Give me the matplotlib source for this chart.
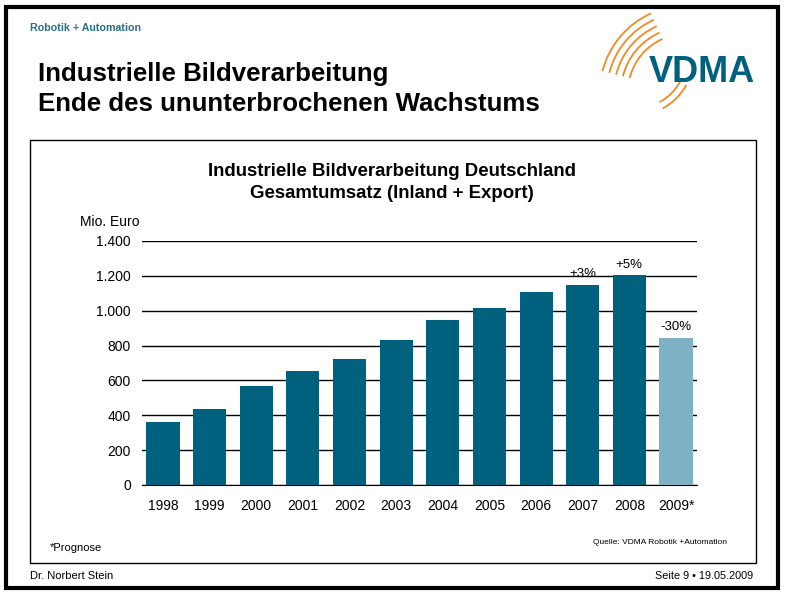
"""Industrielle Bildverarbeitung Deutschland - Gesamtumsatz (VDMA slide)."""
import matplotlib

matplotlib.use("Agg")
import matplotlib.pyplot as plt
from matplotlib.patches import Arc, Rectangle

years = ["1998", "1999", "2000", "2001", "2002", "2003",
         "2004", "2005", "2006", "2007", "2008", "2009*"]
umsatz = [360, 437, 568, 655, 725, 832, 947, 1015, 1108, 1150, 1205, 845]
is_forecast = [False] * 11 + [True]
growth_labels = {"2007": "+3%", "2008": "+5%", "2009*": "-30%"}
y_ticks = [0, 200, 400, 600, 800, 1000, 1200, 1400]
y_tick_labels = ["0", "200", "400", "600", "800", "1.000", "1.200", "1.400"]

DARK = "#00617f"
LIGHT = "#7fb1c4"
TEAL_TXT = "#2a6f85"
ORANGE = "#f08a24"

plt.rcParams["font.family"] = ["Liberation Sans", "DejaVu Sans"]

fig = plt.figure(figsize=(7.86, 6.00), dpi=100)

# slide decoration in pixel coordinates (y axis points down)
deco = fig.add_axes([0, 0, 1, 1])
deco.set_xlim(0, 786)
deco.set_ylim(600, 0)
deco.axis("off")
deco.add_patch(Rectangle((6, 7), 772, 581, fill=False, lw=3, ec="black"))
deco.add_patch(Rectangle((30, 140), 726, 423, fill=False, lw=1, ec="black"))
deco.text(30, 28, "Robotik + Automation", color=TEAL_TXT, fontsize=7.7,
          fontweight="bold", va="center")
deco.text(38, 74, "Industrielle Bildverarbeitung", fontsize=18.6,
          fontweight="bold", va="center")
deco.text(38, 104, "Ende des ununterbrochenen Wachstums", fontsize=18.6,
          fontweight="bold", va="center")
deco.text(702, 72, "VDMA", color=DARK, fontsize=26, fontweight="bold",
          ha="center", va="center")
# orange logo arcs (angles flipped because of the inverted y axis)
for r in (58, 65, 72, 79, 86):
    deco.add_patch(Arc((686, 92), 2 * r, 2 * r, theta1=194, theta2=246,
                       color=ORANGE, lw=1.3))
for r in (50, 57):
    deco.add_patch(Arc((636, 58), 2 * r, 2 * r, theta1=28, theta2=62,
                       color=ORANGE, lw=1.3))
deco.text(392, 171, "Industrielle Bildverarbeitung Deutschland", fontsize=13.4,
          fontweight="bold", ha="center", va="center")
deco.text(392, 193, "Gesamtumsatz (Inland + Export)", fontsize=13.4,
          fontweight="bold", ha="center", va="center")
deco.text(80, 222, "Mio. Euro", fontsize=10, va="center")
deco.text(50, 548, "*Prognose", fontsize=8, va="center")
deco.text(727, 542, "Quelle: VDMA Robotik +Automation", fontsize=6,
          ha="right", va="center")
deco.text(30, 576, "Dr. Norbert Stein", fontsize=8, va="center")
deco.text(753, 576, "Seite 9 \u2022 19.05.2009", fontsize=7.8, ha="right",
          va="center")

# chart
ax = fig.add_axes([142 / 786, 1 - 485 / 600, 555 / 786, 244 / 600])
x = list(range(len(years)))
colors = [LIGHT if f else DARK for f in is_forecast]
ax.bar(x, umsatz, width=0.71, color=colors, zorder=3)
for i, year in enumerate(years):
    if year in growth_labels:
        ax.text(i, umsatz[i] + 25, growth_labels[year], ha="center",
                va="bottom", fontsize=9.5, zorder=4)

ax.set_xlim(-0.45, len(years) - 0.55)
ax.set_ylim(0, 1400)
ax.set_yticks(y_ticks)
ax.set_yticklabels(y_tick_labels)
ax.set_xticks(x)
ax.set_xticklabels(years)
ax.tick_params(axis="y", length=0, pad=8, labelsize=10)
ax.tick_params(axis="x", length=0, pad=10, labelsize=10)
ax.grid(axis="y", color="black", lw=1, zorder=0)
for side in ("top", "right", "left"):
    ax.spines[side].set_visible(False)
ax.spines["bottom"].set_color("black")
ax.set_facecolor("none")

fig.savefig("out.png", dpi=100)
